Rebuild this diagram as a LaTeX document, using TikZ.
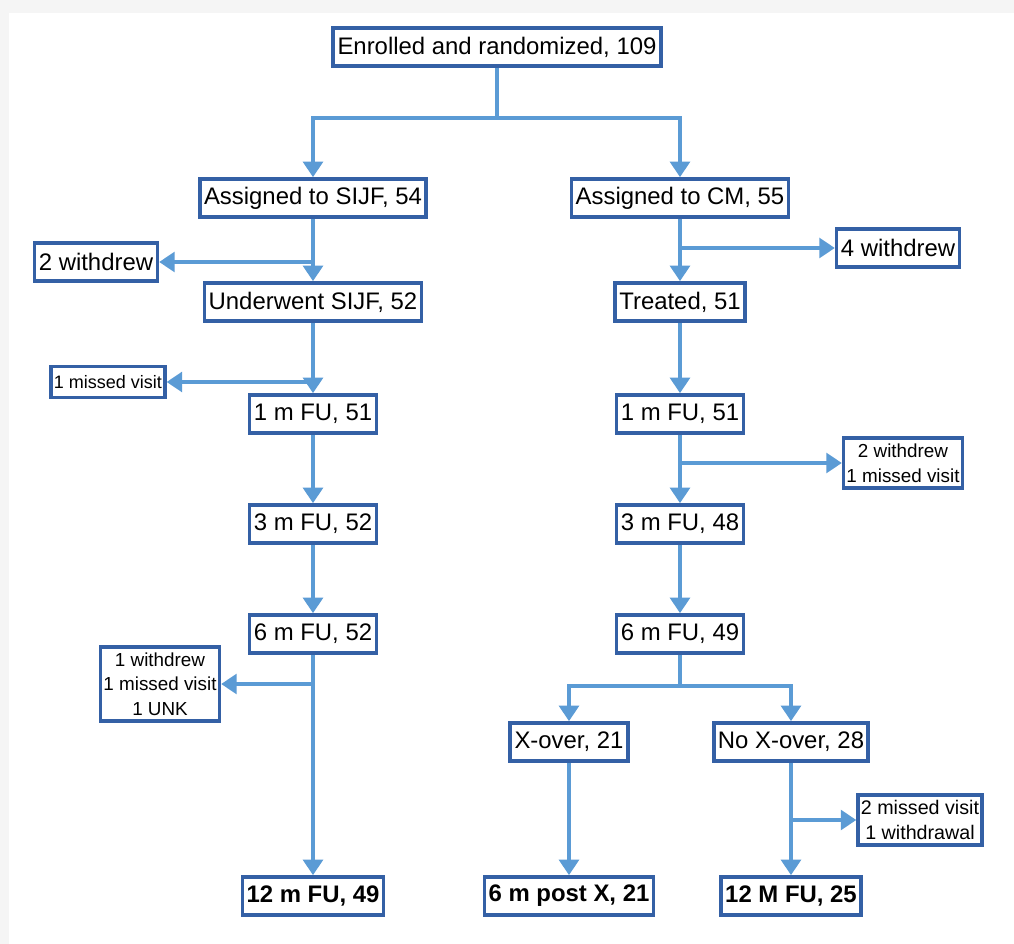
\documentclass[tikz,border=0pt]{standalone}
\usepackage{fontspec}
\setmainfont{Liberation Sans}
\usetikzlibrary{arrows.meta}
\definecolor{boxblue}{RGB}{52,96,165}
\definecolor{lineblue}{RGB}{91,155,213}

\begin{document}
\begin{tikzpicture}[x=0.025cm,y=-0.025cm,
  box/.style={draw=boxblue, line width=2.6pt, fill=white, inner xsep=3pt, inner ysep=2pt,
    minimum height=0.95cm, font=\fontsize{17}{20}\selectfont},
  sbox/.style={draw=boxblue, line width=2.6pt, fill=white, inner xsep=2pt, inner ysep=4pt,
    align=center, font=\fontsize{13.4}{17.5}\selectfont},
  bbox/.style={box, font=\fontsize{17}{20}\selectfont\bfseries},
  link/.style={draw=lineblue, line width=2.5pt, -{Triangle[width=14pt,length=11pt]}}]
\useasboundingbox (0,0) rectangle (1014,944);
\fill[gray!8] (0,0) rectangle (1014,944);
\fill[white] (9,13) rectangle (1014,944);
% nodes
\node [box] (A) at (497,47) {Enrolled and randomized, 109};
\node [box] (B) at (313,198) {Assigned to SIJF, 54};
\node [box] (C) at (680,198) {Assigned to CM, 55};
\node [box] (D) at (96,262) {2 withdrew};
\node [box] (E) at (898,248) {4 withdrew};
\node [box] (F) at (313,302) {Underwent SIJF, 52};
\node [box] (G) at (680,302) {Treated, 51};
\node [sbox, font=\fontsize{12.8}{15}\selectfont, minimum height=0.78cm] (H) at (108,382) {1 missed visit};
\node [box] (I) at (313,414) {1 m FU, 51};
\node [box] (J) at (680,414) {1 m FU, 51};
\node [sbox] (K) at (903,463) {2 withdrew\\1 missed visit};
\node [box] (L) at (313,524) {3 m FU, 52};
\node [box] (M) at (680,524) {3 m FU, 48};
\node [box] (N) at (313,634) {6 m FU, 52};
\node [box] (O) at (680,634) {6 m FU, 49};
\node [sbox] (P) at (160,684) {1 withdrew\\1 missed visit\\1 UNK};
\node [box] (Q) at (569,742) {X-over, 21};
\node [box] (R) at (791,742) {No X-over, 28};
\node [sbox, font=\fontsize{14}{17.5}\selectfont] (S) at (920,820) {2 missed visit\\1 withdrawal};
\node [bbox] (T) at (313,896) {12 m FU, 49};
\node [bbox] (U) at (569,896) {6 m post X, 21};
\node [bbox] (V) at (791,896) {12 M FU, 25};
% split points
\coordinate (a1) at (497,118);
\coordinate (o1) at (680,686);
% connectors
\draw [link, -] (A) -- (a1);
\draw [link] (a1) -| (B);
\draw [link] (a1) -| (C);
\draw [link] (B) -- (F);
\draw [link] (B |- D) -- (D);
\draw [link] (C) -- (G);
\draw [link] (C |- E) -- (E);
\draw [link] (F) -- (I);
\draw [link] (F |- H) -- (H);
\draw [link] (G) -- (J);
\draw [link] (I) -- (L);
\draw [link] (J) -- (M);
\draw [link] (J |- K) -- (K);
\draw [link] (L) -- (N);
\draw [link] (M) -- (O);
\draw [link] (N) -- (T);
\draw [link] (N |- P) -- (P);
\draw [link, -] (O) -- (o1);
\draw [link] (o1) -| (Q);
\draw [link] (o1) -| (R);
\draw [link] (Q) -- (U);
\draw [link] (R) -- (V);
\draw [link] (R |- S) -- (S);
\end{tikzpicture}
\end{document}
